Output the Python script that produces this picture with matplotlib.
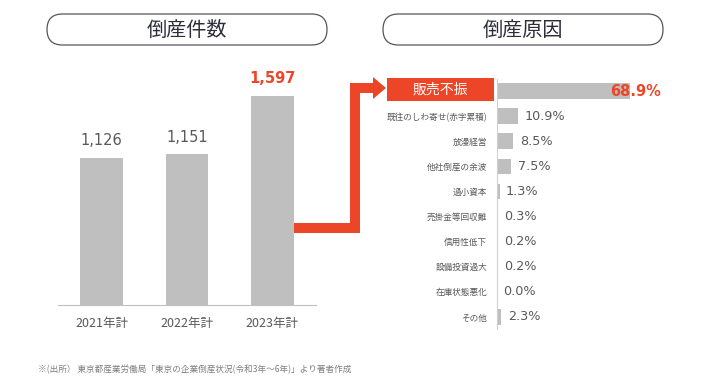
import matplotlib.pyplot as plt
from matplotlib.patches import FancyBboxPatch, Rectangle, Polygon

plt.rcParams['font.family'] = ['Noto Sans CJK JP', 'DejaVu Sans']

years = ['2021年計', '2022年計', '2023年計']
counts = [1126, 1151, 1597]

causes = ['販売不振', '既往のしわ寄せ(赤字累積)', '放漫経営', '他社倒産の余波', '過小資本',
          '売掛金等回収難', '信用性低下', '設備投資過大', '在庫状態悪化', 'その他']
shares = [68.9, 10.9, 8.5, 7.5, 1.3, 0.3, 0.2, 0.2, 0.0, 2.3]

red = '#EC4527'
grey = '#BFBFBF'
txt = '#595959'

W, H = 710, 383
fig = plt.figure(figsize=(W / 100, H / 100), dpi=100)


def box(x0, y0, x1, y1):
    # pixel box -> figure fraction [left, bottom, width, height]
    return [x0 / W, 1 - y1 / H, (x1 - x0) / W, (y1 - y0) / H]


# left: number of bankruptcies
ax1 = fig.add_axes(box(58, 60, 316, 305))
ax1.bar(range(len(years)), counts, width=0.5, color=grey)
ax1.set_xlim(-0.51, 2.51)
ax1.set_ylim(0, 1597 * 245 / 209)
for i, v in enumerate(counts):
    last = i == len(counts) - 1
    ax1.annotate(f'{v:,}', (i, v), xytext=(0, 7), textcoords='offset points',
                 ha='center', va='bottom', fontsize=10.5, family='DejaVu Sans',
                 color=red if last else txt, fontweight='bold' if last else 'normal')
ax1.set_xticks(range(len(years)), years, fontsize=9, color=txt)
ax1.tick_params(axis='x', length=0, pad=9)
ax1.set_yticks([])
for s in ['left', 'right', 'top']:
    ax1.spines[s].set_visible(False)
ax1.spines['bottom'].set_color('#BFBFBF')

# right: causes
ax2 = fig.add_axes(box(497, 79, 700, 329))
ax2.barh(range(len(causes)), shares, height=0.62, color=grey)
ax2.set_xlim(0, 203 / 1.93)
ax2.set_ylim(len(causes) - 0.52, -0.48)
ax2.set_yticks(range(len(causes)), [''] + causes[1:], fontsize=6.2, color=txt)
ax2.tick_params(axis='y', length=0, pad=7)
ax2.set_xticks([])
for s in ['right', 'top', 'bottom']:
    ax2.spines[s].set_visible(False)
ax2.spines['left'].set_color('#D0D0D0')
for i, v in enumerate(shares):
    if i == 0:
        ax2.annotate(f'{v}%', (v, i), xytext=(-14, 0), textcoords='offset points',
                     ha='left', va='center', fontsize=10.5, family='DejaVu Sans',
                     color=red, fontweight='bold')
    else:
        ax2.annotate(f'{v}%', (v, i), xytext=(4.5, 0), textcoords='offset points',
                     ha='left', va='center', fontsize=9.2, family='DejaVu Sans', color=txt)

# overlay in pixel coordinates for titles and arrow
ov = fig.add_axes([0, 0, 1, 1], zorder=5)
ov.set_xlim(0, W)
ov.set_ylim(H, 0)
ov.axis('off')

for x0, x1, title in [(47, 327, '倒産件数'), (383, 663, '倒産原因')]:
    ov.add_patch(FancyBboxPatch((x0, 14), x1 - x0, 31,
                                boxstyle='round,pad=0,rounding_size=15.5',
                                fc='white', ec='#555560', lw=0.9))
    ov.text((x0 + x1) / 2, 30, title, ha='center', va='center', fontsize=14.5, color='#2E2E3A')

arrow = [(294, 223), (350, 223), (350, 83), (373, 83), (373, 77), (386, 88),
         (373, 99), (373, 93), (360, 93), (360, 233), (294, 233)]
ov.add_patch(Polygon(arrow, closed=True, fc=red, ec='none'))

ov.add_patch(Rectangle((387, 78), 107, 23, fc=red, ec='none'))
ov.text(440.5, 90, causes[0], ha='center', va='center', fontsize=10, color='white')

ov.text(38, 370, '※(出所） 東京都産業労働局「東京の企業倒産状況(令和3年～6年)」より著者作成',
        ha='left', va='center', fontsize=6.2, color='#7F7F7F')

fig.savefig('out.png', dpi=100)
